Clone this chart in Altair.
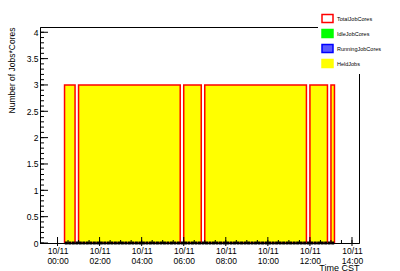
import altair as alt
import pandas as pd

DAY = "2013-10-11"

# Contiguous runs of 10-minute bins holding jobs (Oct 11, CST)
segment_start = ["00:20", "01:00", "06:00", "07:00", "12:00", "13:00"]
segment_end = ["00:50", "05:50", "06:50", "11:50", "12:50", "13:10"]
held_jobs = [3, 3, 3, 3, 3, 3]
total_job_cores = [3, 3, 3, 3, 3, 3]

# RunningJobCores markers: one per 10-minute bin, every one read as 0
marker_first, marker_last = "00:25", "13:05"

# Axis decorations
x_label_times = ["00:00", "02:00", "04:00", "06:00", "08:00", "10:00", "12:00", "14:00"]
y_label_values = [0, 0.5, 1, 1.5, 2, 2.5, 3, 3.5, 4]

legend_series = ["TotalJobCores", "IdleJobCores", "RunningJobCores", "HeldJobs"]
legend_fill = ["#ffffff", "#00ff00", "#5a5aff", "#ffff00"]
legend_stroke = ["#ff0000", "#00ff00", "#0000ff", "#ffff00"]


def ts(hhmm):
    return f"{DAY}T{hhmm}:00Z"


seg_df = pd.DataFrame({
    "start": [ts(t) for t in segment_start],
    "end": [ts(t) for t in segment_end],
    "held": held_jobs,
    "total": total_job_cores,
})

marker_times = pd.date_range(ts(marker_first), ts(marker_last), freq="10min")
running_job_cores = [0] * len(marker_times)
mark_df = pd.DataFrame({
    "t": marker_times.strftime("%Y-%m-%dT%H:%M:%SZ"),
    "running": running_job_cores,
})

x_major_df = pd.DataFrame({"t": [ts(t) for t in x_label_times]})
x_minor_df = pd.DataFrame({
    "t": pd.date_range(ts("00:00"), ts("14:00"), freq="30min").strftime("%Y-%m-%dT%H:%M:%SZ")
})
y_major_df = pd.DataFrame({"v": y_label_values})
y_minor_df = pd.DataFrame({"v": [round(i * 0.1, 1) for i in range(41)]})
legend_df = pd.DataFrame({"series": legend_series})

FONT = "Liberation Sans"

x_scale = alt.Scale(
    type="utc",
    domain=[
        alt.DateTime(year=2013, month=10, date=10, hours=23, minutes=10, utc=True),
        alt.DateTime(year=2013, month=10, date=11, hours=14, minutes=20, utc=True),
    ],
)
y_scale = alt.Scale(domain=[0, 4.1], nice=False, zero=True)

x_axis = alt.Axis(
    values=[alt.DateTime(year=2013, month=10, date=11, hours=h, utc=True) for h in range(0, 15, 2)],
    labelExpr="[utcFormat(datum.value, '%m/%d'), utcFormat(datum.value, '%H:%M')]",
    labelFont=FONT, labelFontSize=8.5, labelColor="black", labelLineHeight=10.3,
    labelPadding=3, ticks=False, tickSize=0, grid=False,
    domain=True, domainColor="black", domainWidth=1, zindex=1,
    labelOverlap=False, labelFlush=False,
    title="Time CST", titleFont=FONT, titleFontSize=9, titleFontWeight="normal",
    titleColor="black", titleAnchor="end", titleAlign="right", titleX=319, titleY=27,
    titleBaseline="alphabetic",
)
y_axis = alt.Axis(
    values=y_label_values,
    labelExpr="format(datum.value, '.1~f')",
    labelFont=FONT, labelFontSize=8.5, labelColor="black", labelPadding=2,
    labelOverlap=False, labelFlush=False,
    ticks=False, tickSize=0, grid=False,
    domain=True, domainColor="black", domainWidth=1, zindex=1,
    title="Number of Jobs*Cores", titleFont=FONT, titleFontSize=8.5,
    titleFontWeight="normal", titleColor="black", titleAnchor="end",
    titleAngle=270, titleAlign="right", titleBaseline="middle", titleX=-29, titleY=0,
)


def X(field):
    return alt.X(field, scale=x_scale, axis=x_axis)


def Y(field):
    return alt.Y(field, scale=y_scale, axis=y_axis)


held = alt.Chart(seg_df).mark_rect(color="#ffff00").encode(
    x=X("start:T"), x2="end:T", y=Y("held:Q"), y2=alt.datum(0),
)

total = alt.Chart(seg_df).mark_rect(fillOpacity=0, stroke="#ff0000", strokeWidth=1.5).encode(
    x=X("start:T"), x2="end:T", y=Y("total:Q"), y2=alt.datum(0),
)

running = alt.Chart(mark_df).mark_point(shape="square", filled=True, size=9, color="black", opacity=1).encode(
    x=X("t:T"), y=Y("running:Q"),
)

x_major = alt.Chart(x_major_df).mark_rule(color="black", strokeWidth=1).encode(
    x=X("t:T"), y=alt.value(210), y2=alt.value(219),
)
x_minor = alt.Chart(x_minor_df).mark_rule(color="black", strokeWidth=1).encode(
    x=X("t:T"), y=alt.value(213), y2=alt.value(216),
)
y_major = alt.Chart(y_major_df).mark_rule(color="black", strokeWidth=1).encode(
    y=Y("v:Q"), x=alt.value(0), x2=alt.value(8),
)
y_minor = alt.Chart(y_minor_df).mark_rule(color="black", strokeWidth=1).encode(
    y=Y("v:Q"), x=alt.value(0), x2=alt.value(4),
)

RECT_PATH = "M-1,-0.72H1V0.72H-1Z"
leg = alt.Legend(
    orient="none", legendX=278, legendY=-18, title=None, fillColor="white",
    padding=3, labelFont=FONT, labelFontSize=5.5, labelColor="black", rowPadding=0,
    symbolType=RECT_PATH, symbolSize=121, symbolStrokeWidth=1.5, symbolOpacity=1,
    labelOffset=3,
)
legend_layer = alt.Chart(legend_df).mark_point(filled=True, opacity=0).encode(
    fill=alt.Fill("series:N", scale=alt.Scale(domain=legend_series, range=legend_fill), legend=leg),
    stroke=alt.Stroke("series:N", scale=alt.Scale(domain=legend_series, range=legend_stroke), legend=leg),
)

chart = alt.layer(
    held, total, x_major, x_minor, y_major, y_minor, running, legend_layer
).properties(
    width=319, height=216,
    autosize=alt.AutoSizeParams(type="none"),
    padding={"left": 40, "top": 27, "right": 41, "bottom": 28},
    background="white",
).configure_view(stroke="black", strokeWidth=1)

chart.save("out.html", embed_options={"renderer": "svg", "actions": False})
